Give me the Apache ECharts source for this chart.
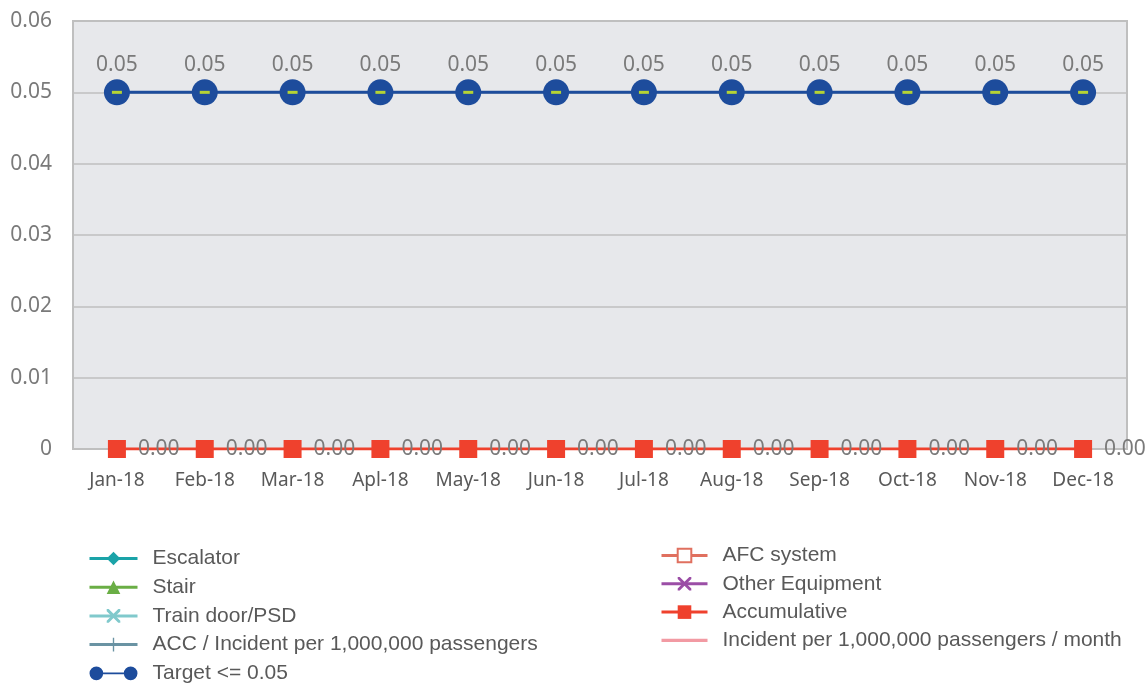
<!DOCTYPE html>
<html>
<head>
<meta charset="utf-8">
<script src="https://cdn.jsdelivr.net/npm/echarts@6/dist/echarts.min.js"></script>
<style>
  html, body { margin: 0; padding: 0; background: #fff; }
  #chart { width: 1148px; height: 684px; }
</style>
</head>
<body>
<div id="chart"></div>
<script>
// months on the x axis
const months = ['Jan-18', 'Feb-18', 'Mar-18', 'Apl-18', 'May-18', 'Jun-18',
  'Jul-18', 'Aug-18', 'Sep-18', 'Oct-18', 'Nov-18', 'Dec-18']

// series values (empty ones draw nothing)
const escalator = []
const stair = []
const trainDoor = []
const accIncident = []
const target = [0.05, 0.05, 0.05, 0.05, 0.05, 0.05, 0.05, 0.05, 0.05, 0.05, 0.05, 0.05]
const afcSystem = []
const otherEquipment = []
const accumulative = [0, 0, 0, 0, 0, 0, 0, 0, 0, 0, 0, 0]
const incidentPerMonth = []

const yTicks = [0, 0.01, 0.02, 0.03, 0.04, 0.05, 0.06]

const crossIcon = 'path://M0,0 L3,0 L10,7 L17,0 L20,0 L20,3 L13,10 L20,17 L20,20 L17,20 L10,13 L3,20 L0,20 L0,17 L7,10 L0,3 Z'
const plusIcon = 'path://M9,0 L11,0 L11,9 L20,9 L20,11 L11,11 L11,20 L9,20 L9,11 L0,11 L0,9 L9,9 Z'
const targetIcon = 'path://M0,8 A8,8 0 1 1 16,8 A8,8 0 1 1 0,8 Z M15,7 L41,7 L41,9 L15,9 Z M40,8 A8,8 0 1 1 56,8 A8,8 0 1 1 40,8 Z'
const flatLineIcon = 'path://M0,0 L45,0 L45,3 L0,3 Z'

const chart = echarts.init(document.getElementById('chart'))

const legendText = {
  fontFamily: 'Liberation Sans',
  fontSize: 21,
  color: '#595959',
  lineHeight: 20,
  padding: [0, 0, 0, 10]
}

chart.setOption({
  animation: false,
  grid: {
    left: 73,
    right: 21,
    top: 21,
    bottom: 235,
    show: true,
    backgroundColor: '#e7e8eb',
    borderColor: '#bfbfbf',
    borderWidth: 2
  },
  legend: [
    {
      left: 88,
      top: 548,
      height: 160,
      padding: 0,
      orient: 'vertical',
      itemWidth: 48,
      itemHeight: 17,
      itemGap: 7.7,
      lineStyle: { width: 3 },
      textStyle: legendText,
      data: [
        { name: 'Escalator' },
        { name: 'Stair' },
        { name: 'Train door/PSD' },
        { name: 'ACC / Incident per 1,000,000 passengers' },
        { name: 'Target <= 0.05', icon: targetIcon, itemStyle: { color: '#1d4c9c' } }
      ]
    },
    {
      left: 660,
      top: 545,
      height: 140,
      padding: 0,
      orient: 'vertical',
      itemWidth: 46,
      itemHeight: 17,
      itemGap: 7.3,
      lineStyle: { width: 3 },
      textStyle: legendText,
      data: [
        { name: 'AFC system' },
        { name: 'Other Equipment' },
        { name: 'Accumulative' },
        { name: 'Incident per 1,000,000 passengers / month', icon: flatLineIcon }
      ]
    }
  ],
  xAxis: {
    type: 'category',
    data: months,
    axisTick: { show: false },
    axisLine: { lineStyle: { color: '#bfbfbf', width: 2 } },
    axisLabel: {
      interval: 0,
      margin: 22,
      fontFamily: 'Noto Sans',
      fontSize: 19,
      color: '#595959'
    }
  },
  yAxis: {
    type: 'value',
    min: yTicks[0],
    max: yTicks[yTicks.length - 1],
    interval: 0.01,
    axisLine: { show: false },
    axisTick: { show: false },
    splitLine: { lineStyle: { color: '#bfbfbf', width: 1.5 } },
    axisLabel: {
      margin: 21,
      fontFamily: 'Noto Sans',
      fontSize: 21,
      color: '#7a7a7a',
      formatter: v => (v === 0 ? '0' : v.toFixed(2))
    }
  },
  series: [
    {
      name: 'Escalator', type: 'line', data: escalator,
      symbol: 'diamond', symbolSize: 12,
      itemStyle: { color: '#1aa3a8' }, lineStyle: { width: 3 }
    },
    {
      name: 'Stair', type: 'line', data: stair,
      symbol: 'triangle', symbolSize: 12,
      itemStyle: { color: '#6aae45' }, lineStyle: { width: 3 }
    },
    {
      name: 'Train door/PSD', type: 'line', data: trainDoor,
      symbol: crossIcon, symbolSize: 14,
      itemStyle: { color: '#80c9cc' }, lineStyle: { width: 3 }
    },
    {
      name: 'ACC / Incident per 1,000,000 passengers', type: 'line', data: accIncident,
      symbol: plusIcon, symbolSize: 14,
      itemStyle: { color: '#6a93a3' }, lineStyle: { width: 3 }
    },
    {
      name: 'Target <= 0.05', type: 'line', data: target,
      symbol: 'circle', symbolSize: 26,
      itemStyle: { color: '#1d4c9c' },
      lineStyle: { width: 3, color: '#1d4c9c' },
      label: {
        show: true,
        position: 'top',
        distance: 4,
        fontFamily: 'Noto Sans',
        fontSize: 21,
        color: '#7a7a7a',
        formatter: p => p.value.toFixed(2)
      },
      z: 3
    },
    {
      // small lime dash drawn inside each target circle
      name: 'target-dash', type: 'line', data: target,
      symbol: 'rect', symbolSize: [10, 3],
      showSymbol: true,
      itemStyle: { color: '#b5d334' },
      lineStyle: { width: 0, opacity: 0 },
      z: 4
    },
    {
      name: 'AFC system', type: 'line', data: afcSystem,
      symbol: 'emptyRect', symbolSize: 12,
      itemStyle: { color: '#e0705f', borderWidth: 2 }, lineStyle: { width: 3 }
    },
    {
      name: 'Other Equipment', type: 'line', data: otherEquipment,
      symbol: crossIcon, symbolSize: 14,
      itemStyle: { color: '#9b4ea6' }, lineStyle: { width: 3 }
    },
    {
      name: 'Accumulative', type: 'line', data: accumulative,
      symbol: 'rect', symbolSize: 18,
      itemStyle: { color: '#ef412d' },
      lineStyle: { width: 3, color: '#ef412d' },
      label: {
        show: true,
        position: 'right',
        distance: 12,
        fontFamily: 'Noto Sans',
        fontSize: 21,
        color: '#7a7a7a',
        formatter: p => p.value.toFixed(2)
      },
      z: 3
    },
    {
      name: 'Incident per 1,000,000 passengers / month', type: 'line', data: incidentPerMonth,
      symbol: 'none',
      itemStyle: { color: '#f29aa3' }, lineStyle: { width: 3 }
    }
  ]
})
</script>
</body>
</html>
